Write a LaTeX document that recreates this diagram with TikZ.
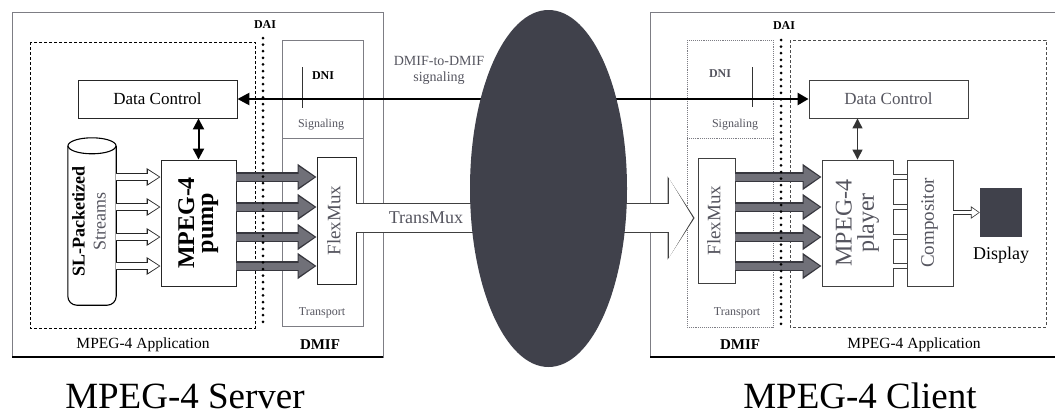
\documentclass[tikz,border=0pt]{standalone}
\usepackage{fontspec}
\setmainfont{Liberation Serif}
\usepackage{tikz}
\usetikzlibrary{shapes.geometric, arrows.meta, calc}
\definecolor{netgray}{RGB}{64, 65, 75}
\definecolor{streamgray}{RGB}{112, 112, 120}
\definecolor{edgegray}{RGB}{55, 55, 62}
\definecolor{textgray}{RGB}{85, 85, 95}
\definecolor{framegray}{RGB}{125, 125, 132}
\newcommand{\vtext}[1]{\rotatebox{90}{\begin{tabular}{@{}c@{}}#1\end{tabular}}}

\begin{document}
\begin{tikzpicture}[x=1pt, y=-1pt,
  block/.style={draw=black!85, line width=0.9pt, fill=white, inner sep=0pt},
  lbl/.style={inner sep=0pt, font=\fontsize{#1}{#1}\selectfont},
  blbl/.style={inner sep=0pt, font=\fontsize{#1}{#1}\selectfont\bfseries},
  dailine/.style={line width=3pt, line cap=round, dash pattern=on 0pt off 6.6pt},
  streamarrow/.style={draw=streamgray, line width=7pt, shorten >=2pt,
    -{Triangle[length=16pt, width=20pt]},
    preaction={draw=edgegray, line width=10pt, shorten >=0pt,
      -{Triangle[length=19pt, width=25pt]}}},
  hollowarrow/.style={draw=white, line width=6pt, shorten >=1.5pt,
    -{Triangle[length=11pt, width=13pt]},
    preaction={draw=black!85, line width=8.5pt, shorten >=0pt,
      -{Triangle[length=14pt, width=17pt]}}},
  smallhollow/.style={draw=white, line width=3.5pt, shorten >=1.2pt,
    -{Triangle[length=7pt, width=9pt]},
    preaction={draw=black!80, line width=5.5pt, shorten >=0pt,
      -{Triangle[length=9pt, width=12pt]}}},
  bigarrow/.style={draw=white, line width=28pt, shorten >=4.5pt,
    -{Triangle[length=24pt, width=78pt]},
    preaction={draw=black!75, line width=30.5pt, shorten >=3pt,
      -{Triangle[length=27pt, width=82pt]}}}]
  \useasboundingbox (0,0) rectangle (1055,416);

  \draw[framegray, line width=0.8pt] (12,12) rectangle (383,357);
  \draw[line width=2pt] (12,357) -- (383,357);
  \draw[densely dashed, line width=0.9pt] (30,42) rectangle (255,328);
  \draw[framegray, line width=0.7pt] (282,40) rectangle (363,326);
  \draw[framegray, line width=0.7pt] (282,138) -- (363,138);
  \draw[black!80, line width=0.9pt] (302,67) -- (302,108);

  \draw[framegray, line width=0.8pt] (650,12) rectangle (1062,357);
  \draw[line width=2pt] (650,357) -- (1055,357);
  \draw[framegray, densely dotted, line width=0.9pt] (687,40) rectangle (773,327);
  \draw[framegray, densely dotted, line width=0.9pt] (687,138) -- (773,138);
  \draw[black!70, densely dashed, line width=0.8pt] (790,40) rectangle (1046,327);
  \draw[black!80, line width=0.9pt] (752,67) -- (752,107);

  \node[block, minimum width=159pt, minimum height=38pt, lbl=17] (dcsrv) at (157.5,99) {Data Control};
  \node[block, minimum width=75pt, minimum height=126pt, font=\fontsize{24}{19}\selectfont\bfseries] (pump) at (198.5,223) {\vtext{MPEG-4\\pump}};
  \node[block, minimum width=39pt, minimum height=127pt, lbl=19, text=textgray] (flexsrv) at (336.5,220.5) {\vtext{FlexMux}};
  \node[inner sep=0pt, minimum width=48pt, minimum height=167pt, font=\fontsize{18}{21}\selectfont] (streams) at (92,221.5) {};
  \draw[line width=1.1pt, rounded corners=9pt] (streams.north west) ++(0,8) -- (streams.south west) -- (streams.south east) -- ($(streams.north east)+(0,8)$);
  \draw[line width=1.1pt, fill=white] ($(streams.north)+(0,8)$) ellipse (24pt and 8pt);
  \node[inner sep=0pt, font=\fontsize{18}{21}\selectfont] (streamstxt) at ($(streams.center)+(-1,0)$) {\vtext{\textbf{SL-Packetized}\\\textcolor{textgray}{Streams}}};

  \node[block, draw=black!75, minimum width=159pt, minimum height=38pt, lbl=17, text=textgray] (dccli) at (888.5,99) {Data Control};
  \node[block, draw=black!75, minimum width=37pt, minimum height=125pt, lbl=19, text=textgray] (flexcli) at (716.5,220.5) {\vtext{FlexMux}};
  \node[block, draw=black!75, minimum width=71pt, minimum height=126pt, font=\fontsize{24}{18}\selectfont, text=textgray] (player) at (857.5,223) {\vtext{MPEG-4\\player}};
  \node[block, draw=black!75, minimum width=46pt, minimum height=126pt, lbl=19, text=textgray] (compositor) at (930,223) {\vtext{Compositor}};
  \node[fill=netgray, inner sep=0pt, minimum width=42pt, minimum height=49pt] (display) at (1001,212.5) {};

  \foreach \y in {177,207,237,266} {
    \draw[hollowarrow] (streams.east |- 0,\y) -- (pump.west |- 0,\y);
    \draw[streamarrow] (pump.east |- 0,\y) -- (flexsrv.west |- 0,\y);
    \draw[streamarrow] (flexcli.east |- 0,\y) -- (player.west |- 0,\y);
    \draw[black!75, double, double distance=4pt, line width=0.7pt] (player.east |- 0,\y) -- (compositor.west |- 0,\y);
  }
  \draw[smallhollow] (compositor.east |- display.west) -- (display.west);
  \draw[line width=2pt, {Triangle[length=11pt, width=11pt]}-{Triangle[length=11pt, width=11pt]}] (pump.north |- dcsrv.south) -- (pump.north);
  \draw[black!80, line width=1.3pt, {Triangle[length=10pt, width=10pt]}-{Triangle[length=10pt, width=10pt]}] (player.north |- dccli.south) -- (player.north);

  \draw[bigarrow] (flexsrv.east |- 0,218) -- (flexcli.west |- 0,218);
  \draw[line width=2.5pt, {Triangle[length=12pt, width=12pt]}-{Triangle[length=11pt, width=12pt]}] (dcsrv.east) -- (dccli.west);

  \draw[dailine] (263,38) -- (263,326);
  \draw[dailine] (781,40) -- (781,326);

  \node[ellipse, fill=netgray, inner sep=0pt, minimum width=157pt, minimum height=357pt] (net) at (548.5,188.5) {};

  \node[blbl=12] (daisrv) at (265,25) {DAI};
  \node[blbl=12] (daicli) at (784,26) {DAI};
  \node[blbl=12] (dnisrv) at (323,76) {DNI};
  \node[blbl=12, text=textgray] (dnicli) at (720,74) {DNI};
  \node[lbl=12, text=textgray] (sigsrv) at (321,125) {Signaling};
  \node[lbl=12, text=textgray] (sigcli) at (735,125) {Signaling};
  \node[lbl=12, text=textgray] (trsrv) at (322,313) {Transport};
  \node[lbl=12, text=textgray] (trcli) at (737,313) {Transport};
  \node[lbl=15.5] (appsrv) at (143,345) {MPEG-4 Application};
  \node[blbl=15] (dmifsrv) at (320,345) {DMIF};
  \node[blbl=15] (dmifcli) at (740,345) {DMIF};
  \node[lbl=15.5] (appcli) at (914,345) {MPEG-4 Application};
  \node[text=textgray, align=center, inner sep=0pt, font=\fontsize{14}{16}\selectfont] (siglbl) at (439,70) {DMIF-to-DMIF\\signaling};
  \node[lbl=18, text=textgray] (tmux) at (426,218) {TransMux};
  \node[lbl=18] (displbl) at (1001,255) {Display};
  \node[lbl=37] (server) at (185,396) {MPEG-4 Server};
  \node[lbl=37] (client) at (860,396) {MPEG-4 Client};
\end{tikzpicture}
\end{document}
